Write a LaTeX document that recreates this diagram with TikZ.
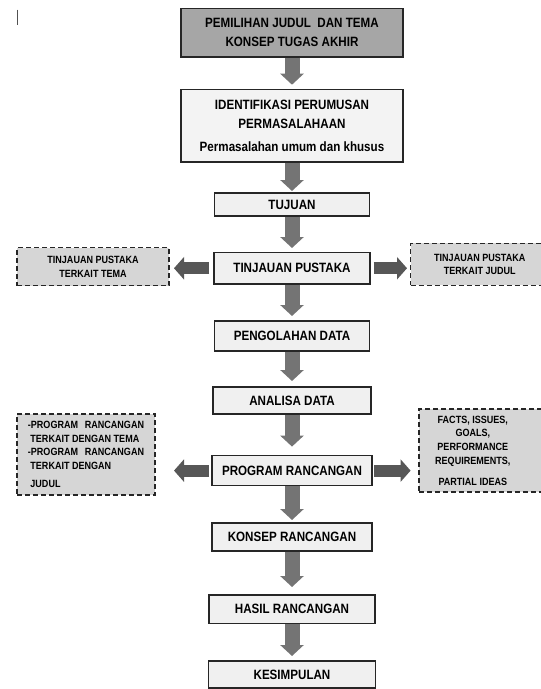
\documentclass[tikz,border=0pt]{standalone}
\usepackage{fontspec}
\setmainfont{Liberation Sans}[FakeStretch=0.86]
\usetikzlibrary{positioning, arrows.meta}
\usepackage{xcolor}

\definecolor{darkfill}{HTML}{A6A6A6}
\definecolor{lightfill}{HTML}{F0F0F0}
\definecolor{sidefill}{HTML}{D6D6D6}
\definecolor{downgray}{HTML}{747474}
\definecolor{sidegray}{HTML}{575757}
\definecolor{framegray}{HTML}{262626}

\begin{document}
\begin{tikzpicture}[x=1pt, y=1pt,
    box/.style={draw=framegray, line width=1.3pt, rectangle, inner sep=0pt, outer sep=0pt, align=center, fill=lightfill, font=\fontsize{13.5}{19}\selectfont\bfseries},
    sidebox/.style={draw=framegray, line width=1.3pt, dash pattern=on 5pt off 3pt, rectangle, inner sep=0pt, outer sep=0pt, fill=sidefill, font=\fontsize{10.5}{13.6}\selectfont\bfseries},
    sidetext/.style={inner sep=0pt, align=center, font=\fontsize{10.5}{13.6}\selectfont\bfseries},
    downarrow/.style={draw=downgray, line width=15pt, -{Triangle[width=23pt, length=11pt]}, shorten <=0.5pt},
    sidearrow/.style={draw=sidegray, line width=12pt, -{Triangle[width=22pt, length=10pt]}}
]
\useasboundingbox (0,0) rectangle (541,-689);
\clip (0,0) rectangle (541,-689);

% stray mark
\draw[framegray!80, line width=1pt] (17.5,-9.5) -- (17.5,-25);

% Nodes
\node[box, fill=darkfill, minimum width=222pt, minimum height=48.4pt] (judul) at (292,-32.8) {PEMILIHAN JUDUL\ \ DAN TEMA\\ KONSEP TUGAS AKHIR};
\node[box, minimum width=222pt, minimum height=72.3pt, below=32.7pt of judul, fill=lightfill!80!white] (identifikasi) {IDENTIFIKASI PERUMUSAN\\ PERMASALAHAAN\\[4.5pt] Permasalahan umum dan khusus};
\node[box, minimum width=154.5pt, minimum height=23pt, below=31pt of identifikasi] (tujuan) {TUJUAN};
\node[box, minimum width=156pt, minimum height=31.5pt, below=36.5pt of tujuan] (tinjauan) {TINJAUAN PUSTAKA};
\node[box, minimum width=154.5pt, minimum height=30pt, below=37pt of tinjauan] (pengolahan) {PENGOLAHAN DATA};
\node[box, minimum width=158pt, minimum height=27pt, below=36pt of pengolahan] (analisa) {ANALISA DATA};
\node[box, minimum width=160pt, minimum height=30pt, below=41.6pt of analisa] (program) {PROGRAM RANCANGAN};
\node[box, minimum width=160pt, minimum height=28pt, below=37.4pt of program] (konsep) {KONSEP RANCANGAN};
\node[box, minimum width=166pt, minimum height=28.5pt, below=44pt of konsep] (hasil) {HASIL RANCANGAN};
\node[box, minimum width=167pt, minimum height=27pt, below=37.5pt of hasil] (kesimpulan) {KESIMPULAN};

% side boxes
\node[sidebox, align=center, minimum width=152pt, minimum height=38pt, left=45pt of tinjauan, yshift=1.5pt] (tpTema) {TINJAUAN PUSTAKA\\ TERKAIT TEMA};
\node[sidebox, minimum width=160pt, minimum height=42pt, right=40.6pt of tinjauan, yshift=4pt] (tpJudul) {};
\node[sidetext, right=23.4pt of tpJudul.west] (tpJudulText) {TINJAUAN PUSTAKA\\ TERKAIT JUDUL};

\node[sidebox, align=left, minimum width=138pt, minimum height=81pt, left=57pt of program, yshift=16pt] (progTema) {-PROGRAM\ \ \,RANCANGAN\\ \ TERKAIT DENGAN TEMA\\ -PROGRAM\ \ \,RANCANGAN\\ \ TERKAIT DENGAN\\[5pt] \ JUDUL};
\node[sidebox, minimum width=160pt, minimum height=83pt, right=47pt of program, yshift=20pt] (progFacts) {};
\node[sidetext, right=16pt of progFacts.west] (progFactsText) {FACTS, ISSUES,\\ GOALS,\\ PERFORMANCE\\ REQUIREMENTS,\\[7.5pt] PARTIAL IDEAS};

% Edges
\draw[downarrow, shorten >=5pt] (judul) -- (identifikasi);
\draw[downarrow, shorten >=2pt] (identifikasi) -- (tujuan);
\draw[downarrow, shorten >=4.5pt] (tujuan) -- (tinjauan);
\draw[downarrow, shorten >=5pt] (tinjauan) -- (pengolahan);
\draw[downarrow, shorten >=6pt] (pengolahan) -- (analisa);
\draw[downarrow, shorten >=9pt] (analisa) -- (program);
\draw[downarrow, shorten >=3pt] (program) -- (konsep);
\draw[downarrow, shorten >=8pt] (konsep) -- (hasil);
\draw[downarrow, shorten >=5pt] (hasil) -- (kesimpulan);

\draw[sidearrow, shorten <=5pt, shorten >=5pt] (tinjauan.west) -- (tinjauan.west -| tpTema.east);
\draw[sidearrow, shorten <=3.7pt, shorten >=3.6pt] (tinjauan.east) -- (tinjauan.east -| tpJudul.west);
\draw[sidearrow, shorten <=3pt, shorten >=19pt] (program.west) -- (program.west -| progTema.east);
\draw[sidearrow, shorten <=2pt, shorten >=8.4pt] (program.east) -- (program.east -| progFacts.west);

\end{tikzpicture}
\end{document}
